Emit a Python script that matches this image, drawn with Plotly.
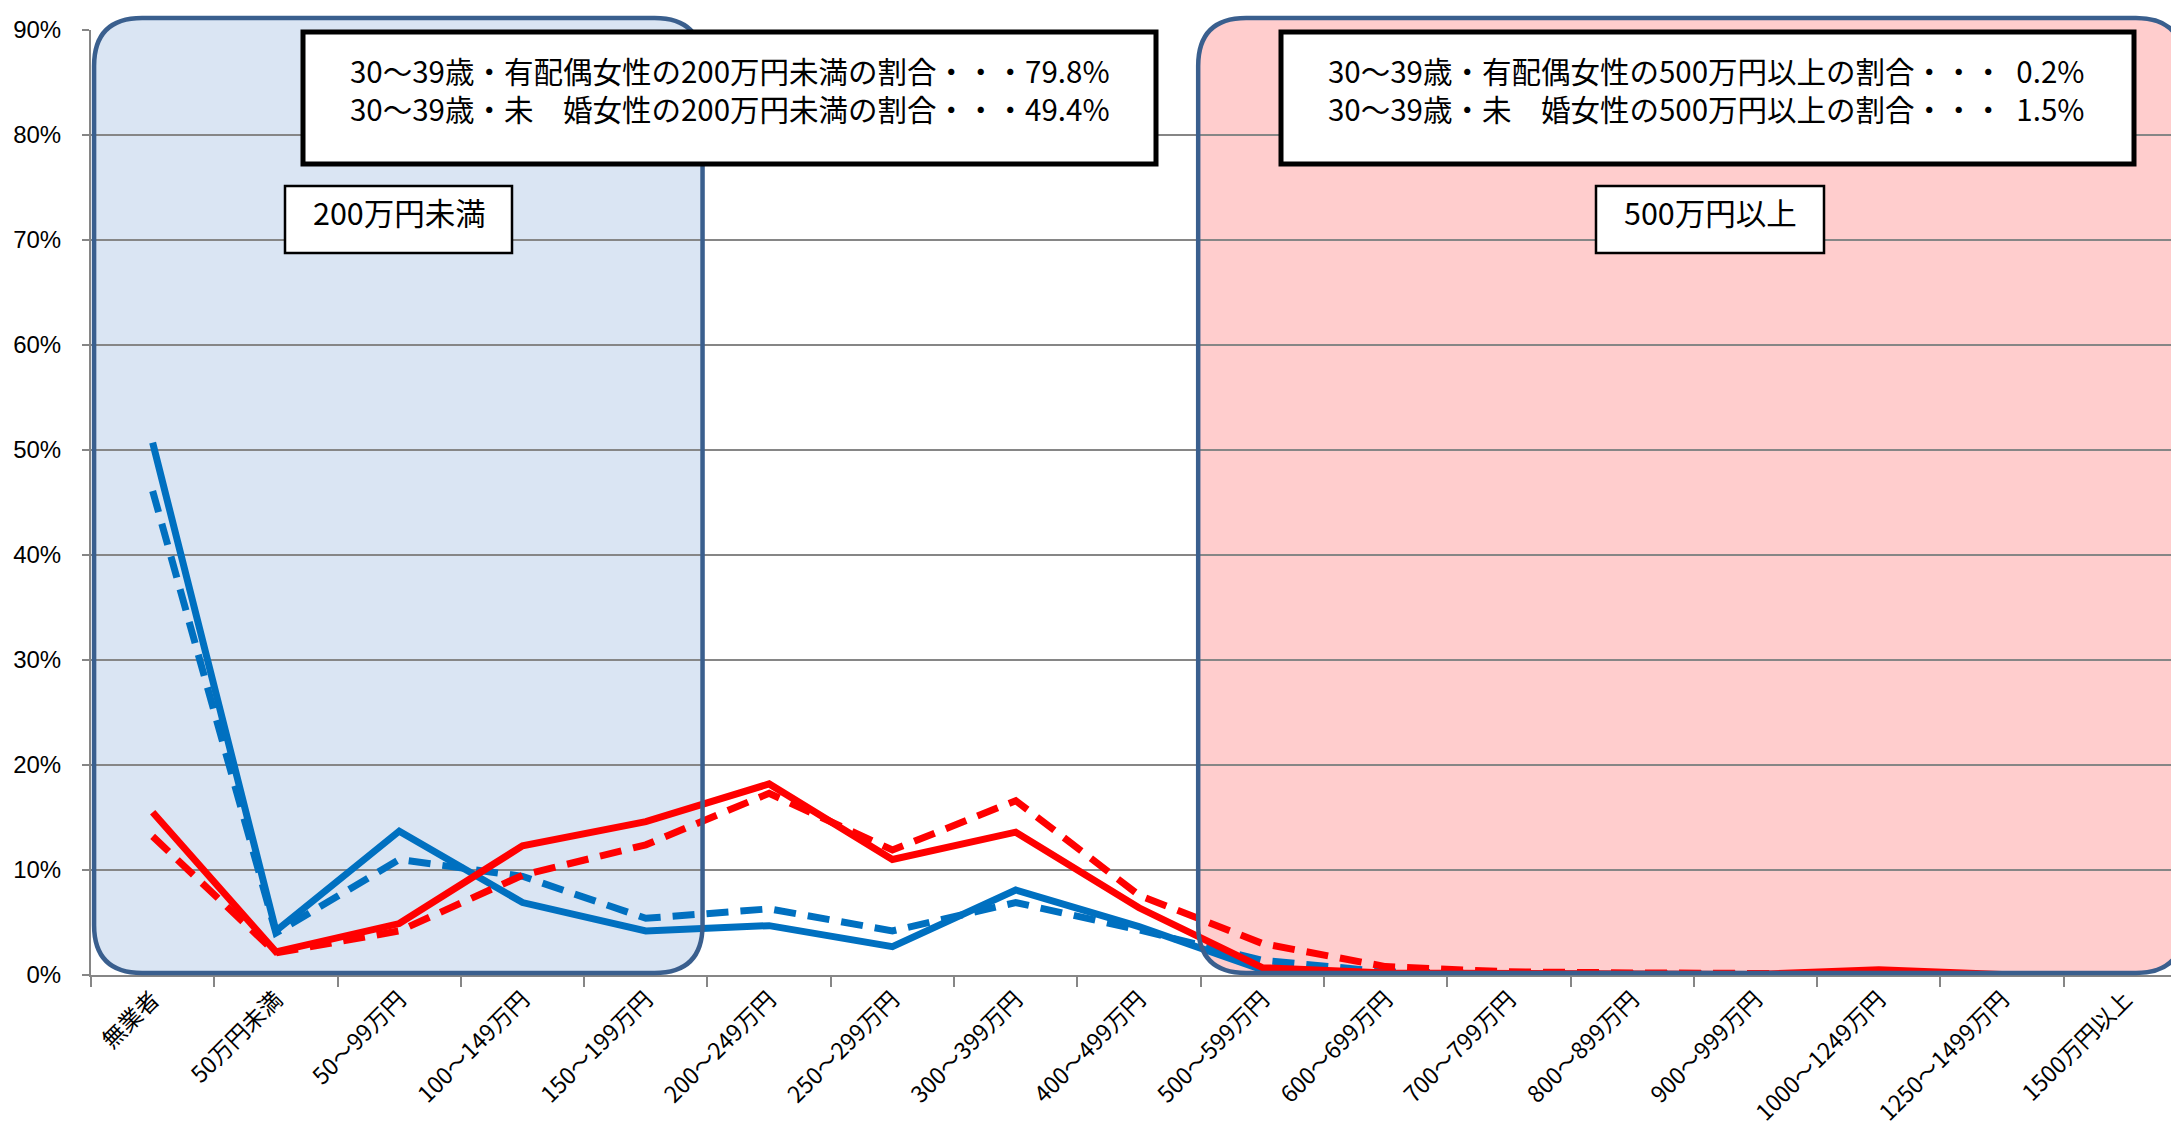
import plotly.graph_objects as go

# ---------------- data ----------------
categories = ["無業者", "50万円未満", "50～99万円", "100～149万円", "150～199万円",
              "200～249万円", "250～299万円", "300～399万円", "400～499万円",
              "500～599万円", "600～699万円", "700～799万円", "800～899万円",
              "900～999万円", "1000～1249万円", "1250～1499万円", "1500万円以上"]

married_solid = [50.7, 4.2, 13.7, 6.9, 4.2, 4.7, 2.7, 8.1, 4.6, 0.5, 0.1, 0.1, 0.05, 0.05, 0.1, 0.0, 0.0]
married_dashed = [46.1, 4.0, 11.0, 9.4, 5.4, 6.3, 4.2, 6.9, 4.3, 1.4, 0.3, 0.1, 0.1, 0.05, 0.05, 0.0, 0.0]
single_solid = [15.5, 2.2, 4.9, 12.3, 14.6, 18.2, 11.0, 13.6, 6.4, 0.7, 0.2, 0.1, 0.05, 0.05, 0.5, 0.05, 0.05]
single_dashed = [13.2, 2.1, 4.2, 9.5, 12.4, 17.3, 11.9, 16.6, 7.6, 3.0, 0.8, 0.3, 0.2, 0.1, 0.1, 0.05, 0.05]

y_tick_values = [0, 10, 20, 30, 40, 50, 60, 70, 80, 90]
y_tick_labels = ["0%", "10%", "20%", "30%", "40%", "50%", "60%", "70%", "80%", "90%"]

low_box_lines = ["30～39歳・有配偶女性の200万円未満の割合・・・79.8%",
                 "30～39歳・未\u3000婚女性の200万円未満の割合・・・49.4%"]
high_box_lines = ["30～39歳・有配偶女性の500万円以上の割合・・・\u00a0\u00a00.2%",
                  "30～39歳・未\u3000婚女性の500万円以上の割合・・・\u00a0\u00a01.5%"]
low_label = "200万円未満"
high_label = "500万円以上"

# ---------------- layout geometry ----------------
W, H = 2179, 1127
ML, MR, MT, MB = 83, 0, 22, 160
PW = W - ML - MR
PH = H - MT - MB
N = len(categories)


def px_x(px):
    return (px - ML) / PW


def px_y(py):
    return (H - MB - py) / PH


def cat_x(c):
    return (c + 0.5) / N


def rounded_path(x0, y0, x1, y1, r):
    rx = r / PW
    ry = r / PH
    return (f"M {x0+rx},{y1} L {x1-rx},{y1} Q {x1},{y1} {x1},{y1-ry} "
            f"L {x1},{y0+ry} Q {x1},{y0} {x1-rx},{y0} "
            f"L {x0+rx},{y0} Q {x0},{y0} {x0},{y0+ry} "
            f"L {x0},{y1-ry} Q {x0},{y1} {x0+rx},{y1} Z")


BLUE = "#0070C0"
RED = "#FF0000"
CJK = "Noto Sans CJK JP"

fig = go.Figure()

series = [
    ("30～39歳・有配偶女性（破線）", married_dashed, BLUE, "22px,12px"),
    ("30～39歳・有配偶女性", married_solid, BLUE, "solid"),
    ("30～39歳・未婚女性（破線）", single_dashed, RED, "22px,12px"),
    ("30～39歳・未婚女性", single_solid, RED, "solid"),
]
for name, vals, col, dash in series:
    fig.add_trace(go.Scatter(
        x=categories, y=vals, name=name, mode="lines",
        line=dict(color=col, width=7, dash=dash),
        hoverinfo="skip", showlegend=False,
    ))

shapes = []
regions = [
    (-0.475, 4.46, "#dae5f3"),
    (8.48, 16.475, "#ffcdcd"),
]
for c0, c1, fill in regions:
    p = rounded_path(cat_x(c0), px_y(965), cat_x(c1), px_y(10), 48)
    shapes.append(dict(type="path", xref="paper", yref="paper", path=p,
                       fillcolor=fill, line=dict(width=0), layer="below"))
for c0, c1, fill in regions:
    p = rounded_path(cat_x(c0), px_y(965), cat_x(c1), px_y(10), 48)
    shapes.append(dict(type="path", xref="paper", yref="paper", path=p,
                       fillcolor="rgba(0,0,0,0)",
                       line=dict(color="#3A5F8E", width=4.5), layer="above"))

text_boxes = [
    (295, 1148, 24, 156, 5),
    (1273, 2126, 24, 156, 5),
    (277, 504, 178, 245, 2.5),
    (1588, 1816, 178, 245, 2.5),
]
for x0, x1, y0, y1, lw in text_boxes:
    shapes.append(dict(type="rect", xref="paper", yref="paper",
                       x0=px_x(x0), x1=px_x(x1), y0=px_y(y1), y1=px_y(y0),
                       fillcolor="white", line=dict(color="black", width=lw),
                       layer="above"))

annotations = []
for cx, lines in [(722, low_box_lines), (1698, high_box_lines)]:
    for ly, txt in zip([62, 100], lines):
        annotations.append(dict(xref="paper", yref="paper", x=px_x(cx), y=px_y(ly),
                                xanchor="center", yanchor="middle", showarrow=False,
                                text=txt, font=dict(family=CJK, size=29.5, color="black")))
for cx, txt in [(391, low_label), (1702, high_label)]:
    annotations.append(dict(xref="paper", yref="paper", x=px_x(cx), y=px_y(204),
                            xanchor="center", yanchor="middle", showarrow=False,
                            text=txt, font=dict(family=CJK, size=30.5, color="black")))

fig.update_layout(
    width=W, height=H,
    margin=dict(l=ML, r=MR, t=MT, b=MB, autoexpand=False),
    paper_bgcolor="white", plot_bgcolor="white",
    shapes=shapes, annotations=annotations,
    showlegend=False,
    xaxis=dict(
        type="category", categoryorder="array", categoryarray=categories,
        range=[-0.5, N - 0.5], tickson="boundaries",
        ticks="outside", ticklen=10, tickwidth=2, tickcolor="#868686",
        showline=True, linecolor="#868686", linewidth=2,
        showgrid=False, zeroline=False,
        tickangle=-45, automargin=False,
        tickfont=dict(family=CJK, size=23, color="black"),
    ),
    yaxis=dict(
        range=[0, 90], tickmode="array", tickvals=y_tick_values, ticktext=y_tick_labels,
        ticks="outside", ticklen=7, tickwidth=2, tickcolor="#868686",
        showline=True, linecolor="#868686", linewidth=2,
        showgrid=True, gridcolor="#868686", gridwidth=2,
        zeroline=False, automargin=False, ticklabelstandoff=16,
        tickfont=dict(family="Liberation Sans, sans-serif", size=24, color="black"),
    ),
)

fig.write_html("out.html")
